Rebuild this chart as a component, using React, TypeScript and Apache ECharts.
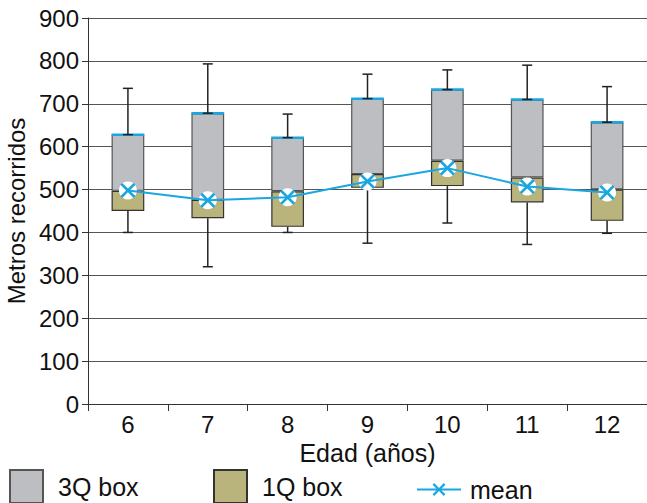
import React, { useEffect, useRef } from "react";
import * as echarts from "echarts";

const categories = ["6", "7", "8", "9", "10", "11", "12"];
const minVals = [400, 320, 400, 375, 422, 372, 398];
const q1Vals = [450, 433, 413, 504, 508, 470, 427];
const medianVals = [497, 476, 496, 536, 567, 528, 500];
const q3Vals = [628, 678, 621, 712, 733, 710, 657];
const maxVals = [736, 793, 676, 769, 779, 790, 740];
const meanVals = [498, 475, 482, 519, 550, 507, 493];
const yTicks = { min: 0, max: 900, interval: 100 };

const FONT = "'Liberation Sans', Arial, Helvetica, sans-serif";
const GRAY = "#bdbec2";
const OLIVE = "#b9b47c";
const BLUE = "#1aa7e1";
const XPATH =
  "path://M2,0 L8,6 L14,0 L16,2 L10,8 L16,14 L14,16 L8,10 L2,16 L0,14 L6,8 L0,2 Z";

export default function App() {
  const ref = useRef<HTMLDivElement>(null);
  useEffect(() => {
    document.body.style.margin = "0";
    if (!ref.current) return;
    const chart = echarts.init(ref.current, null, { renderer: "svg" });
    const lowerHeights = medianVals.map((m, i) => m - q1Vals[i]);
    const upperHeights = q3Vals.map((q, i) => q - medianVals[i]);
    const whiskerData = categories.map((_, i) => [i, minVals[i], q1Vals[i], q3Vals[i], maxVals[i]]);
    const legendText = { fontSize: 25, color: "#111", fontFamily: FONT };
    const option: any = {
      animation: false,
      textStyle: { fontFamily: FONT },
      grid: {
        left: 88,
        right: 0,
        top: 18,
        bottom: 99,
        containLabel: false,
        outerBoundsMode: "none",
      },
      legend: [
        {
          data: ["3Q box"],
          icon: "rect",
          left: 9,
          top: 469,
          padding: 0,
          itemWidth: 33,
          itemHeight: 33,
          textStyle: { ...legendText, padding: [0, 0, 0, 10] },
        },
        {
          data: ["1Q box"],
          icon: "rect",
          left: 213,
          top: 469,
          padding: 0,
          itemWidth: 33,
          itemHeight: 33,
          textStyle: { ...legendText, padding: [0, 0, 0, 10] },
        },
        {
          data: ["mean"],
          left: 416,
          top: 477,
          padding: 0,
          itemWidth: 44,
          itemHeight: 16,
          textStyle: { ...legendText, padding: [0, 0, 0, 4] },
        },
      ],
      xAxis: {
        type: "category",
        data: categories,
        boundaryGap: true,
        name: "Edad (años)",
        nameLocation: "middle",
        nameGap: 35,
        nameTextStyle: { fontSize: 25, color: "#111", fontFamily: FONT },
        axisLine: { lineStyle: { color: "#333", width: 1 } },
        axisTick: { show: true, length: 7, interval: 0, lineStyle: { color: "#333" } },
        axisLabel: { fontSize: 24, color: "#111", margin: 8, fontFamily: FONT },
        splitLine: { show: false },
      },
      yAxis: {
        type: "value",
        min: yTicks.min,
        max: yTicks.max,
        interval: yTicks.interval,
        name: "Metros recorridos",
        nameLocation: "middle",
        nameGap: 57,
        nameTextStyle: { fontSize: 24, color: "#111", fontFamily: FONT },
        axisLine: { show: true, lineStyle: { color: "#333", width: 1 } },
        axisTick: { show: true, length: 6, lineStyle: { color: "#333" } },
        axisLabel: { fontSize: 24, color: "#111", margin: 9, fontFamily: FONT },
        splitLine: { show: true, lineStyle: { color: "#555", width: 1 } },
      },
      series: [
        {
          name: "base",
          type: "bar",
          stack: "box",
          data: q1Vals,
          barWidth: "41%",
          itemStyle: { color: "transparent", borderWidth: 0 },
          silent: true,
        },
        {
          name: "1Q box",
          type: "bar",
          stack: "box",
          data: lowerHeights,
          barWidth: "41%",
          itemStyle: { color: OLIVE, borderColor: "#333", borderWidth: 1.2 },
        },
        {
          name: "3Q box",
          type: "bar",
          stack: "box",
          data: upperHeights,
          barWidth: "41%",
          itemStyle: { color: GRAY, borderColor: "#555", borderWidth: 1.2 },
        },
        {
          name: "whiskers",
          type: "custom",
          data: whiskerData,
          encode: { x: 0, y: [1, 2, 3, 4] },
          z: 3,
          silent: true,
          renderItem: (params: any, api: any) => {
            const i = api.value(0);
            const pMin = api.coord([i, api.value(1)]);
            const pQ1 = api.coord([i, api.value(2)]);
            const pQ3 = api.coord([i, api.value(3)]);
            const pMax = api.coord([i, api.value(4)]);
            const bw = api.size([1, 0])[0] * 0.41;
            const cap = 5;
            const ls = { stroke: "#222", lineWidth: 1.5 };
            const cx = pMax[0];
            return {
              type: "group",
              children: [
                {
                  type: "line",
                  shape: { x1: cx - bw / 2, y1: pQ3[1], x2: cx + bw / 2, y2: pQ3[1] },
                  style: { stroke: BLUE, lineWidth: 2.5 },
                },
                { type: "line", shape: { x1: cx, y1: pMax[1], x2: cx, y2: pQ3[1] }, style: ls },
                { type: "line", shape: { x1: cx - cap, y1: pMax[1], x2: cx + cap, y2: pMax[1] }, style: ls },
                { type: "line", shape: { x1: cx - cap, y1: pQ3[1], x2: cx + cap, y2: pQ3[1] }, style: ls },
                { type: "line", shape: { x1: cx, y1: pQ1[1], x2: cx, y2: pMin[1] }, style: ls },
                { type: "line", shape: { x1: cx - cap, y1: pMin[1], x2: cx + cap, y2: pMin[1] }, style: ls },
              ],
            };
          },
        },
        {
          name: "meanBg",
          type: "scatter",
          data: meanVals,
          symbol: "circle",
          symbolSize: 18,
          itemStyle: { color: "#fff", opacity: 1 },
          z: 4,
          silent: true,
        },
        {
          name: "mean",
          type: "line",
          data: meanVals,
          symbol: XPATH,
          symbolSize: 15,
          showAllSymbol: true,
          lineStyle: { color: BLUE, width: 2 },
          itemStyle: { color: BLUE },
          z: 5,
        },
      ],
    };
    chart.setOption(option);
    return () => chart.dispose();
  }, []);
  return <div ref={ref} style={{ width: 647, height: 503 }} />;
}
